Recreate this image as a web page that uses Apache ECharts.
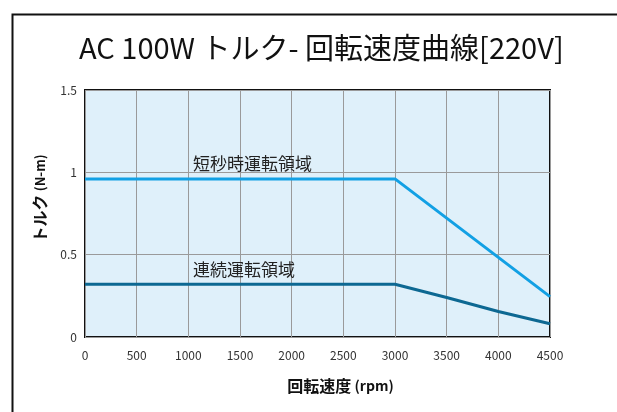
<!DOCTYPE html>
<html><head><meta charset="utf-8">
<script src="https://cdn.jsdelivr.net/npm/echarts@6/dist/echarts.min.js"></script>
<style>html,body{margin:0;padding:0;background:#fff}#c{width:617px;height:412px}</style>
</head><body><div id="c"></div>
<script>
const xTicks = [0,500,1000,1500,2000,2500,3000,3500,4000,4500];
const shortTermSpeed = [0, 3000, 4500];
const shortTermTorque = [0.96, 0.96, 0.245];
const contSpeed = [0, 3000, 3500, 4000, 4500];
const contTorque = [0.32, 0.32, 0.24, 0.155, 0.08];
const labelShort = '短秒時運転領域';
const labelCont = '連続運転領域';
const font = '"Noto Sans CJK JP", "Noto Sans", sans-serif';

const chart = echarts.init(document.getElementById('c'));
const zip = (a,b)=>a.map((v,i)=>[v,b[i]]);
chart.setOption({
  animation:false,
  title:{text:'AC 100W トルク- 回転速度曲線[220V]', left:74, top:28,
    textStyle:{fontFamily:font, fontSize:29, fontWeight:'normal', color:'#111'}},
  graphic:[{type:'rect', left:10, top:12, shape:{width:640, height:440},
    style:{fill:'none', stroke:'#111', lineWidth:2}, silent:true}],
  grid:{left:85, right:67, top:90, bottom:75, show:true, backgroundColor:'#dff0fa', borderColor:'#111', borderWidth:2},
  xAxis:{type:'value', min:0, max:4500, interval:500,
    name:'{a|回転速度} {b|(rpm)}', nameLocation:'middle', nameGap:41,
    nameTextStyle:{padding:[0,0,0,46], rich:{
      a:{fontFamily:font, fontSize:16, fontWeight:'bold', color:'#111'},
      b:{fontFamily:font, fontSize:14, fontWeight:'bold', color:'#111'}}},
    axisLine:{show:false}, axisTick:{show:false},
    axisLabel:{fontFamily:font, fontSize:12, color:'#333', margin:12, formatter:v=>String(v)},
    splitLine:{show:true, lineStyle:{color:'#9a9a9a', width:1}}},
  yAxis:{type:'value', min:0, max:1.5, interval:0.5,
    name:'{a|トルク} {b|(N-m)}', nameLocation:'middle', nameGap:37, nameRotate:90,
    nameTextStyle:{padding:[0,0,0,30], rich:{
      a:{fontFamily:font, fontSize:16, fontWeight:'bold', color:'#111'},
      b:{fontFamily:font, fontSize:13, fontWeight:'bold', color:'#111'}}},
    axisLine:{show:false}, axisTick:{show:false},
    axisLabel:{fontFamily:font, fontSize:12, color:'#333', margin:8},
    splitLine:{show:true, lineStyle:{color:'#9a9a9a', width:1}}},
  series:[
    {type:'line', data:zip(shortTermSpeed, shortTermTorque), symbol:'none',
     lineStyle:{color:'#12a0e4', width:3},
     markPoint:{symbol:'rect', symbolSize:0, data:[{coord:[1045,0.96]}],
       label:{show:true, formatter:labelShort, position:'right', distance:0, offset:[0,-15],
         fontFamily:font, fontSize:17, color:'#222'}}},
    {type:'line', data:zip(contSpeed, contTorque), symbol:'none',
     lineStyle:{color:'#0d6892', width:3},
     markPoint:{symbol:'rect', symbolSize:0, data:[{coord:[1045,0.32]}],
       label:{show:true, formatter:labelCont, position:'right', distance:0, offset:[0,-15],
         fontFamily:font, fontSize:17, color:'#222'}}}
  ]
});
</script></body></html>
